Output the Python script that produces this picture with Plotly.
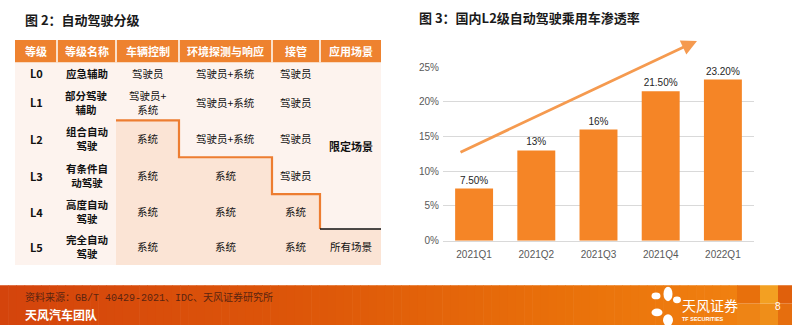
import plotly.graph_objects as go

W, H = 792, 330

# ---------------- data: right chart ----------------
quarters = ["2021Q1", "2021Q2", "2021Q3", "2021Q4", "2022Q1"]
penetration = [0.075, 0.13, 0.16, 0.215, 0.232]
value_labels = ["7.50%", "13%", "16%", "21.50%", "23.20%"]
y_ticks = [0, 0.05, 0.10, 0.15, 0.20, 0.25]
y_tick_labels = ["0%", "5%", "10%", "15%", "20%", "25%"]

# ---------------- data: left table ----------------
headers = ["等级", "等级名称", "车辆控制", "环境探测与响应", "接管", "应用场景"]
levels = ["L0", "L1", "L2", "L3", "L4", "L5"]
level_names = ["应急辅助", "部分驾驶\n辅助", "组合自动\n驾驶", "有条件自\n动驾驶", "高度自动\n驾驶", "完全自动\n驾驶"]
vehicle_control = ["驾驶员", "驾驶员+\n系统", "系统", "系统", "系统", "系统"]
env_detection = ["驾驶员+系统", "驾驶员+系统", "驾驶员+系统", "系统", "系统", "系统"]
takeover = ["驾驶员", "驾驶员", "驾驶员", "驾驶员", "系统", "系统"]
scenario_groups = [("限定场景", 0, 4, True), ("所有场景", 5, 5, False)]  # text, first row, last row, bold

title_left = "图 2：自动驾驶分级"
title_right = "图 3：国内L2级自动驾驶乘用车渗透率"
source_text = "资料来源：GB/T 40429-2021、IDC、天风证券研究所"
team_text = "天风汽车团队"
page_no = "8"

# ---------------- styles / layout config ----------------
ORANGE_HDR = "#EE822F"
ORANGE_BAR = "#F58526"
ORANGE_LINE = "#ED7D31"
BODY_BG = "#FDF3EE"
SHADE_BG = "#FBE4D5"
CJK = "Noto Sans CJK SC"
LAT = "Liberation Sans, Arial, Noto Sans CJK SC"

col_widths = [42, 59, 63, 93, 48, 61]
row_heights = [23, 23, 37, 38, 38, 36, 37]  # header + six levels
col_edges = [0]
for w in col_widths:
    col_edges.append(col_edges[-1] + w)
row_edges = [0]
for h in row_heights:
    row_edges.append(row_edges[-1] + h)
TW, TH = col_edges[-1], row_edges[-1]


def px(x):
    return x / W


def py(y):
    return 1 - y / H


fig = go.Figure()

# ---------------- bar chart ----------------
fig.add_trace(go.Bar(
    x=quarters, y=penetration, text=value_labels, textposition="outside",
    textfont=dict(family=LAT, size=10, color="#262626"), cliponaxis=False,
    marker=dict(color=ORANGE_BAR, line=dict(width=0)), hoverinfo="skip",
    xaxis="x", yaxis="y", showlegend=False,
))

shapes = []
annotations = []

# ---------------- table (drawn on its own axes x2/y2) ----------------
def rect(x0, x1, y0, y1, color):
    shapes.append(dict(type="rect", xref="x2", yref="y2", x0=x0, x1=x1, y0=y0, y1=y1,
                       fillcolor=color, line=dict(width=0), layer="below"))


rect(0, TW, row_edges[1], TH, BODY_BG)
rect(0, TW, 0, row_edges[1], ORANGE_HDR)

# system-controlled cells shading
sys_start = [vehicle_control.index("系统"), env_detection.index("系统"), takeover.index("系统"),
             scenario_groups[1][1]]
for k, s in enumerate(sys_start):
    c = k + 2
    rect(col_edges[c], col_edges[c + 1], row_edges[s + 1], TH, SHADE_BG)

# header separators
for c in range(1, len(col_widths)):
    shapes.append(dict(type="line", xref="x2", yref="y2", x0=col_edges[c], x1=col_edges[c],
                       y0=0, y1=row_edges[1], line=dict(color="white", width=1.5)))

# stair line
pts = []
for k, s in enumerate(sys_start):
    c = k + 2
    y = row_edges[s + 1]
    pts.append((col_edges[c], y))
    if k < len(sys_start) - 1:
        pts.append((col_edges[c + 1], y))
path = "M " + " L ".join(f"{x},{y}" for x, y in pts)
shapes.append(dict(type="path", xref="x2", yref="y2", path=path,
                   line=dict(color=ORANGE_LINE, width=2.2)))
last_y = row_edges[sys_start[-1] + 1]
shapes.append(dict(type="line", xref="x2", yref="y2", x0=col_edges[5], x1=TW,
                   y0=last_y, y1=last_y, line=dict(color="#111111", width=1.3)))


def cell_text(text, c, r0, r1, bold=False, color="#111111", size=10.5):
    xc = (col_edges[c] + col_edges[c + 1]) / 2
    yc = (row_edges[r0] + row_edges[r1 + 1]) / 2
    lines = text.split("\n")
    if bold:
        lines = [f"<b>{ln}</b>" for ln in lines]
    annotations.append(dict(
        xref="x2", yref="y2", x=xc, y=yc, showarrow=False, borderpad=0,
        text="<br>".join(lines), xanchor="center", yanchor="middle", align="center",
        font=dict(family=CJK, size=size, color=color)))


for c, h in enumerate(headers):
    cell_text(h, c, 0, 0, bold=True, color="white", size=11)
for i in range(len(levels)):
    r = i + 1
    cell_text(levels[i], 0, r, r, bold=True, size=11)
    cell_text(level_names[i], 1, r, r, bold=True, size=10.5)
    cell_text(vehicle_control[i], 2, r, r)
    cell_text(env_detection[i], 3, r, r)
    cell_text(takeover[i], 4, r, r)
for txt, r0, r1, b in scenario_groups:
    cell_text(txt, 5, r0 + 1, r1 + 1, bold=b, size=11 if b else 10.5)

# ---------------- titles ----------------
annotations.append(dict(xref="paper", yref="paper", x=px(23), y=py(15), showarrow=False,
                        text=f"<b>{title_left}</b>", xanchor="left", yanchor="middle",
                        font=dict(family=CJK, size=13, color="#1a1a1a")))
annotations.append(dict(xref="paper", yref="paper", x=px(417), y=py(13), showarrow=False,
                        text=f"<b>{title_right}</b>", xanchor="left", yanchor="middle",
                        font=dict(family=CJK, size=13, color="#1a1a1a")))

# trend arrow (decorative)
annotations.append(dict(xref="paper", yref="paper", axref="pixel", ayref="pixel",
                        x=px(697), y=py(37), ax=459 - 697, ay=149 - 37, showarrow=True,
                        arrowhead=2, arrowsize=1.1, arrowwidth=2.8, arrowcolor="#F59A4F",
                        standoff=0, startstandoff=0, text=""))

# ---------------- footer ----------------
stops = [(0, (212, 68, 12)), (300, (221, 86, 9)), (560, (233, 112, 10)), (737, (240, 128, 16))]


def grad(x):
    for (xa, ca), (xb, cb) in zip(stops[:-1], stops[1:]):
        if xa <= x <= xb:
            t = (x - xa) / (xb - xa)
            return "rgb(%d,%d,%d)" % tuple(round(a + (b - a) * t) for a, b in zip(ca, cb))
    return "rgb(%d,%d,%d)" % stops[-1][1]


FT = 289
n_steps = 90
for i in range(n_steps):
    x0 = 737 * i / n_steps
    x1 = 737 * (i + 1) / n_steps + 0.6
    shapes.append(dict(type="rect", xref="paper", yref="paper", x0=px(x0), x1=px(x1),
                       y0=py(H), y1=py(FT), fillcolor=grad((x0 + x1) / 2),
                       line=dict(width=0), layer="below"))
mosaic = [
    (737, 760, 289, 308, "#E8700C"), (737, 760, 308, 330, "#EE8415"),
    (760, 778, 289, 308, "#F3A022"), (760, 778, 308, 330, "#EF8E19"),
    (778, 792, 289, 308, "#E0600C"), (778, 792, 308, 330, "#E66E0E"),
]
for x0, x1, y0, y1, c in mosaic:
    shapes.append(dict(type="rect", xref="paper", yref="paper", x0=px(x0), x1=px(x1),
                       y0=py(y1), y1=py(y0), fillcolor=c, line=dict(width=0), layer="below"))

# logo petals
petals = [(656, 300, 4.5, 3.5), (668, 298, 4.5, 7.5), (677, 304, 4, 3.5),
          (657, 317, 5.5, 4), (668, 325, 5, 6)]
for cx, cy, rx, ry in petals:
    shapes.append(dict(type="circle", xref="paper", yref="paper", x0=px(cx - rx), x1=px(cx + rx),
                       y0=py(cy + ry), y1=py(cy - ry), fillcolor="white", line=dict(width=0)))

annotations += [
    dict(xref="paper", yref="paper", x=px(24), y=py(302), showarrow=False, text=source_text,
         xanchor="left", yanchor="middle", borderpad=0,
         font=dict(family="Liberation Mono, Noto Sans CJK SC", size=10, color="#5B2410")),
    dict(xref="paper", yref="paper", x=px(24), y=py(319), showarrow=False,
         text=f"<b>{team_text}</b>", xanchor="left", yanchor="middle", borderpad=0,
         font=dict(family=CJK, size=12, color="white")),
    dict(xref="paper", yref="paper", x=px(681), y=py(309), showarrow=False, text="天风证券",
         xanchor="left", yanchor="middle", borderpad=0,
         font=dict(family=CJK, size=14, color="white")),
    dict(xref="paper", yref="paper", x=px(681), y=py(324), showarrow=False,
         text="<b>TF SECURITIES</b>", xanchor="left", yanchor="middle", borderpad=0,
         font=dict(family=LAT, size=5.5, color="white")),
    dict(xref="paper", yref="paper", x=px(778), y=py(311), showarrow=False, text=page_no,
         xanchor="center", yanchor="middle", borderpad=0,
         font=dict(family=LAT, size=10, color="white")),
]

fig.update_layout(
    width=W, height=H, margin=dict(l=0, r=0, t=0, b=0),
    paper_bgcolor="white", plot_bgcolor="rgba(0,0,0,0)",
    showlegend=False, bargap=0.39,
    xaxis=dict(domain=[px(443), px(754)], anchor="y", showgrid=False, showline=True,
               linecolor="#D9D9D9", linewidth=1, ticks="", ticklabelstandoff=4,
               tickfont=dict(family=LAT, size=10, color="#595959"), fixedrange=True),
    yaxis=dict(domain=[py(243), py(64)], anchor="x", range=[0, 0.25], tickvals=y_ticks,
               ticktext=y_tick_labels, showgrid=True, gridcolor="#D9D9D9", gridwidth=1,
               zeroline=False, showline=False, ticks="", ticklabelstandoff=3,
               tickfont=dict(family=LAT, size=10, color="#595959"), fixedrange=True),
    xaxis2=dict(domain=[px(15), px(15 + TW)], anchor="y2", range=[0, TW], visible=False,
                fixedrange=True),
    yaxis2=dict(domain=[py(36 + TH), py(36)], anchor="x2", range=[TH, 0], visible=False,
                fixedrange=True),
    shapes=shapes, annotations=annotations,
)

fig.write_html("out.html")
